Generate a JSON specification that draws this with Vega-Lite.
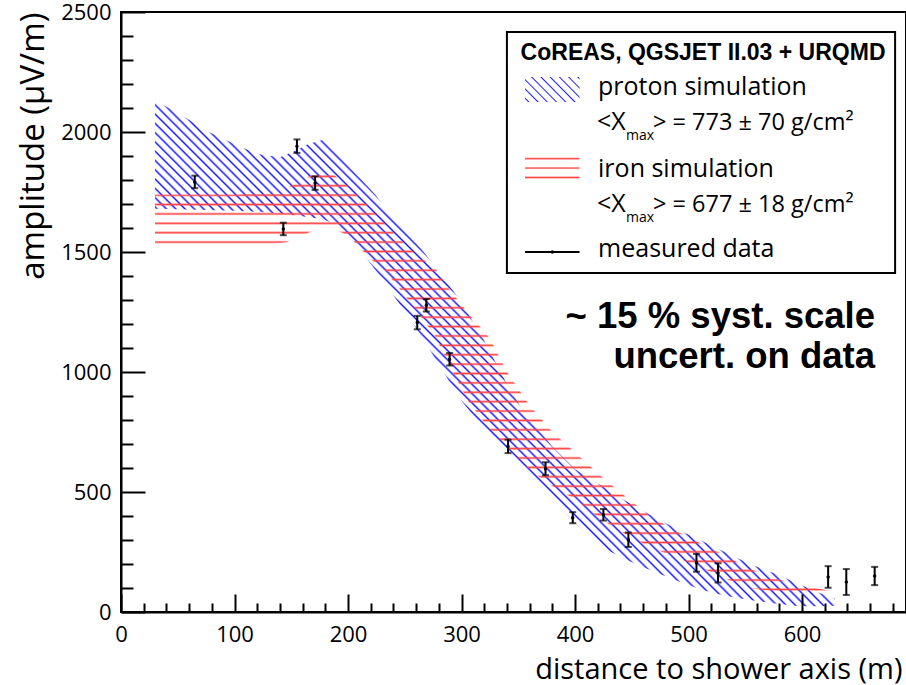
{
  "$schema": "https://vega.github.io/schema/vega-lite/v6.json",
  "width": 785,
  "height": 600,
  "autosize": {"type": "none"},
  "padding": {"left": 121, "top": 12, "right": 0, "bottom": 73},
  "background": "white",
  "config": {"view": {"stroke": "black", "strokeWidth": 2}, "font": "Open Sans"},
  "resolve": {"axis": {"x": "independent", "y": "independent"}},
  "datasets": {
    "proton": [
      {"d": 30, "lo": 1680, "hi": 2130}, {"d": 50, "lo": 1678, "hi": 2080}, {"d": 75, "lo": 1675, "hi": 2005},
      {"d": 100, "lo": 1672, "hi": 1950}, {"d": 120, "lo": 1668, "hi": 1908}, {"d": 140, "lo": 1660, "hi": 1895},
      {"d": 155, "lo": 1652, "hi": 1925}, {"d": 165, "lo": 1645, "hi": 1950}, {"d": 178, "lo": 1638, "hi": 1968},
      {"d": 190, "lo": 1610, "hi": 1915}, {"d": 200, "lo": 1570, "hi": 1860}, {"d": 210, "lo": 1510, "hi": 1810},
      {"d": 224, "lo": 1426, "hi": 1740}, {"d": 240, "lo": 1320, "hi": 1640}, {"d": 265, "lo": 1148, "hi": 1510},
      {"d": 280, "lo": 1030, "hi": 1420}, {"d": 300, "lo": 880, "hi": 1290}, {"d": 320, "lo": 760, "hi": 1130},
      {"d": 340, "lo": 660, "hi": 950}, {"d": 354, "lo": 592, "hi": 840}, {"d": 380, "lo": 470, "hi": 690},
      {"d": 400, "lo": 370, "hi": 595}, {"d": 422, "lo": 275, "hi": 530}, {"d": 444, "lo": 220, "hi": 465},
      {"d": 466, "lo": 175, "hi": 405}, {"d": 490, "lo": 130, "hi": 345}, {"d": 510, "lo": 95, "hi": 300},
      {"d": 532, "lo": 68, "hi": 250}, {"d": 554, "lo": 50, "hi": 200}, {"d": 576, "lo": 35, "hi": 160},
      {"d": 598, "lo": 24, "hi": 115}, {"d": 615, "lo": 24, "hi": 80}, {"d": 629, "lo": 26, "hi": 55}
    ],
    "iron": [
      {"d": 30, "lo": 1530, "hi": 1740}, {"d": 60, "lo": 1530, "hi": 1740}, {"d": 100, "lo": 1530, "hi": 1740},
      {"d": 130, "lo": 1532, "hi": 1745}, {"d": 145, "lo": 1540, "hi": 1765}, {"d": 160, "lo": 1570, "hi": 1800},
      {"d": 175, "lo": 1600, "hi": 1840}, {"d": 185, "lo": 1600, "hi": 1830}, {"d": 195, "lo": 1580, "hi": 1795},
      {"d": 205, "lo": 1545, "hi": 1755}, {"d": 220, "lo": 1470, "hi": 1680}, {"d": 232, "lo": 1426, "hi": 1620},
      {"d": 255, "lo": 1290, "hi": 1510}, {"d": 277, "lo": 1148, "hi": 1430}, {"d": 290, "lo": 1020, "hi": 1340},
      {"d": 307, "lo": 870, "hi": 1240}, {"d": 325, "lo": 760, "hi": 1140}, {"d": 340, "lo": 690, "hi": 1000},
      {"d": 360, "lo": 592, "hi": 860}, {"d": 380, "lo": 525, "hi": 750}, {"d": 400, "lo": 470, "hi": 665},
      {"d": 422, "lo": 390, "hi": 570}, {"d": 446, "lo": 320, "hi": 475}, {"d": 466, "lo": 271, "hi": 400},
      {"d": 490, "lo": 225, "hi": 335}, {"d": 510, "lo": 188, "hi": 288}, {"d": 532, "lo": 140, "hi": 235},
      {"d": 554, "lo": 100, "hi": 180}, {"d": 576, "lo": 85, "hi": 140}, {"d": 600, "lo": 70, "hi": 110},
      {"d": 629, "lo": 62, "hi": 84}
    ],
    "measured": [
      {"d": 65, "amp": 1792, "err": 26}, {"d": 143, "amp": 1596, "err": 26}, {"d": 155, "amp": 1941, "err": 28},
      {"d": 171, "amp": 1787, "err": 28}, {"d": 261, "amp": 1206, "err": 28}, {"d": 269, "amp": 1278, "err": 26},
      {"d": 289.5, "amp": 1053, "err": 26}, {"d": 341, "amp": 690, "err": 28}, {"d": 374, "amp": 597, "err": 27},
      {"d": 398, "amp": 393, "err": 23}, {"d": 425, "amp": 405, "err": 24}, {"d": 447, "amp": 301, "err": 30},
      {"d": 507, "amp": 205, "err": 37}, {"d": 526, "amp": 163, "err": 40}, {"d": 623, "amp": 146, "err": 45},
      {"d": 639, "amp": 125, "err": 54}, {"d": 664, "amp": 150, "err": 38}
    ]
  },
  "layer": [
    {
      "data": {"name": "proton"},
      "mark": {
        "type": "area",
        "fill": {
          "gradient": "linear", "x1": 0, "y1": 0.744, "x2": 1, "y2": 0,
          "stops": [
            {"offset": 0, "color": "rgba(26,26,255,0)"},
            {"offset": 0.2450, "color": "rgba(26,26,255,0)"}, {"offset": 0.2470, "color": "#1a1aff"}, {"offset": 0.2490, "color": "rgba(26,26,255,0)"},
            {"offset": 0.2538, "color": "rgba(26,26,255,0)"}, {"offset": 0.2558, "color": "#1a1aff"}, {"offset": 0.2578, "color": "rgba(26,26,255,0)"},
            {"offset": 0.2626, "color": "rgba(26,26,255,0)"}, {"offset": 0.2646, "color": "#1a1aff"}, {"offset": 0.2666, "color": "rgba(26,26,255,0)"},
            {"offset": 0.2714, "color": "rgba(26,26,255,0)"}, {"offset": 0.2734, "color": "#1a1aff"}, {"offset": 0.2754, "color": "rgba(26,26,255,0)"},
            {"offset": 0.2802, "color": "rgba(26,26,255,0)"}, {"offset": 0.2822, "color": "#1a1aff"}, {"offset": 0.2842, "color": "rgba(26,26,255,0)"},
            {"offset": 0.2890, "color": "rgba(26,26,255,0)"}, {"offset": 0.2910, "color": "#1a1aff"}, {"offset": 0.2930, "color": "rgba(26,26,255,0)"},
            {"offset": 0.2978, "color": "rgba(26,26,255,0)"}, {"offset": 0.2998, "color": "#1a1aff"}, {"offset": 0.3018, "color": "rgba(26,26,255,0)"},
            {"offset": 0.3066, "color": "rgba(26,26,255,0)"}, {"offset": 0.3086, "color": "#1a1aff"}, {"offset": 0.3106, "color": "rgba(26,26,255,0)"},
            {"offset": 0.3154, "color": "rgba(26,26,255,0)"}, {"offset": 0.3174, "color": "#1a1aff"}, {"offset": 0.3194, "color": "rgba(26,26,255,0)"},
            {"offset": 0.3242, "color": "rgba(26,26,255,0)"}, {"offset": 0.3262, "color": "#1a1aff"}, {"offset": 0.3282, "color": "rgba(26,26,255,0)"},
            {"offset": 0.3330, "color": "rgba(26,26,255,0)"}, {"offset": 0.3350, "color": "#1a1aff"}, {"offset": 0.3370, "color": "rgba(26,26,255,0)"},
            {"offset": 0.3418, "color": "rgba(26,26,255,0)"}, {"offset": 0.3438, "color": "#1a1aff"}, {"offset": 0.3458, "color": "rgba(26,26,255,0)"},
            {"offset": 0.3506, "color": "rgba(26,26,255,0)"}, {"offset": 0.3526, "color": "#1a1aff"}, {"offset": 0.3546, "color": "rgba(26,26,255,0)"},
            {"offset": 0.3594, "color": "rgba(26,26,255,0)"}, {"offset": 0.3614, "color": "#1a1aff"}, {"offset": 0.3634, "color": "rgba(26,26,255,0)"},
            {"offset": 0.3682, "color": "rgba(26,26,255,0)"}, {"offset": 0.3702, "color": "#1a1aff"}, {"offset": 0.3722, "color": "rgba(26,26,255,0)"},
            {"offset": 0.3770, "color": "rgba(26,26,255,0)"}, {"offset": 0.3790, "color": "#1a1aff"}, {"offset": 0.3810, "color": "rgba(26,26,255,0)"},
            {"offset": 0.3858, "color": "rgba(26,26,255,0)"}, {"offset": 0.3878, "color": "#1a1aff"}, {"offset": 0.3898, "color": "rgba(26,26,255,0)"},
            {"offset": 0.3946, "color": "rgba(26,26,255,0)"}, {"offset": 0.3966, "color": "#1a1aff"}, {"offset": 0.3986, "color": "rgba(26,26,255,0)"},
            {"offset": 0.4034, "color": "rgba(26,26,255,0)"}, {"offset": 0.4054, "color": "#1a1aff"}, {"offset": 0.4074, "color": "rgba(26,26,255,0)"},
            {"offset": 0.4122, "color": "rgba(26,26,255,0)"}, {"offset": 0.4142, "color": "#1a1aff"}, {"offset": 0.4162, "color": "rgba(26,26,255,0)"},
            {"offset": 0.4210, "color": "rgba(26,26,255,0)"}, {"offset": 0.4230, "color": "#1a1aff"}, {"offset": 0.4250, "color": "rgba(26,26,255,0)"},
            {"offset": 0.4298, "color": "rgba(26,26,255,0)"}, {"offset": 0.4318, "color": "#1a1aff"}, {"offset": 0.4338, "color": "rgba(26,26,255,0)"},
            {"offset": 0.4386, "color": "rgba(26,26,255,0)"}, {"offset": 0.4406, "color": "#1a1aff"}, {"offset": 0.4426, "color": "rgba(26,26,255,0)"},
            {"offset": 0.4474, "color": "rgba(26,26,255,0)"}, {"offset": 0.4494, "color": "#1a1aff"}, {"offset": 0.4514, "color": "rgba(26,26,255,0)"},
            {"offset": 0.4562, "color": "rgba(26,26,255,0)"}, {"offset": 0.4582, "color": "#1a1aff"}, {"offset": 0.4602, "color": "rgba(26,26,255,0)"},
            {"offset": 0.4650, "color": "rgba(26,26,255,0)"}, {"offset": 0.4670, "color": "#1a1aff"}, {"offset": 0.4690, "color": "rgba(26,26,255,0)"},
            {"offset": 0.4738, "color": "rgba(26,26,255,0)"}, {"offset": 0.4758, "color": "#1a1aff"}, {"offset": 0.4778, "color": "rgba(26,26,255,0)"},
            {"offset": 0.4826, "color": "rgba(26,26,255,0)"}, {"offset": 0.4846, "color": "#1a1aff"}, {"offset": 0.4866, "color": "rgba(26,26,255,0)"},
            {"offset": 0.4914, "color": "rgba(26,26,255,0)"}, {"offset": 0.4934, "color": "#1a1aff"}, {"offset": 0.4954, "color": "rgba(26,26,255,0)"},
            {"offset": 0.5002, "color": "rgba(26,26,255,0)"}, {"offset": 0.5022, "color": "#1a1aff"}, {"offset": 0.5042, "color": "rgba(26,26,255,0)"},
            {"offset": 0.5090, "color": "rgba(26,26,255,0)"}, {"offset": 0.5110, "color": "#1a1aff"}, {"offset": 0.5130, "color": "rgba(26,26,255,0)"},
            {"offset": 0.5178, "color": "rgba(26,26,255,0)"}, {"offset": 0.5198, "color": "#1a1aff"}, {"offset": 0.5218, "color": "rgba(26,26,255,0)"},
            {"offset": 0.5266, "color": "rgba(26,26,255,0)"}, {"offset": 0.5286, "color": "#1a1aff"}, {"offset": 0.5306, "color": "rgba(26,26,255,0)"},
            {"offset": 0.5354, "color": "rgba(26,26,255,0)"}, {"offset": 0.5374, "color": "#1a1aff"}, {"offset": 0.5394, "color": "rgba(26,26,255,0)"},
            {"offset": 1, "color": "rgba(26,26,255,0)"}
          ]
        }
      },
      "encoding": {
        "x": {
          "field": "d", "type": "quantitative",
          "scale": {"domain": [0, 691.6], "nice": false, "zero": false},
          "axis": {
            "orient": "bottom",
            "title": "distance to shower axis (m)",
            "values": [0, 100, 200, 300, 400, 500, 600],
            "format": "d",
            "tickSize": -18,
            "tickWidth": 2, "tickColor": "black",
            "domainColor": "black", "domainWidth": 2,
            "labelPadding": 30, "labelFont": "Open Sans", "labelFontSize": 22, "labelColor": "black",
            "labelFlush": false, "labelOverlap": false,
            "titleFont": "Open Sans", "titleFontSize": 29, "titleFontWeight": "normal", "titleColor": "black",
            "titleAnchor": "end", "titleX": 781, "titlePadding": 10, "grid": false, "zindex": 1
          }
        },
        "y": {
          "field": "lo", "type": "quantitative",
          "scale": {"domain": [0, 2500], "nice": false, "zero": true},
          "axis": {
            "orient": "left",
            "title": "amplitude (µV/m)",
            "values": [0, 500, 1000, 1500, 2000, 2500],
            "format": "d",
            "tickSize": -24,
            "tickWidth": 2, "tickColor": "black",
            "domainColor": "black", "domainWidth": 2,
            "labelPadding": 34, "labelFont": "Open Sans", "labelFontSize": 22, "labelColor": "black",
            "labelOverlap": false,
            "titleFont": "Open Sans", "titleFontSize": 33, "titleFontWeight": "normal", "titleColor": "black",
            "titleAnchor": "end", "titlePadding": 10, "grid": false, "zindex": 1
          }
        },
        "y2": {"field": "hi"}
      }
    },
    {
      "data": {"name": "iron"},
      "mark": {
        "type": "area",
        "fill": {
          "gradient": "linear", "x1": 0, "y1": 0, "x2": 0, "y2": 1,
          "stops": [
            {"offset": 0, "color": "rgba(255,64,64,0)"},
            {"offset": 0.010, "color": "rgba(255,64,64,0)"}, {"offset": 0.014, "color": "#ff4040"}, {"offset": 0.018, "color": "rgba(255,64,64,0)"},
            {"offset": 0.032, "color": "rgba(255,64,64,0)"}, {"offset": 0.036, "color": "#ff4040"}, {"offset": 0.040, "color": "rgba(255,64,64,0)"},
            {"offset": 0.054, "color": "rgba(255,64,64,0)"}, {"offset": 0.058, "color": "#ff4040"}, {"offset": 0.062, "color": "rgba(255,64,64,0)"},
            {"offset": 0.076, "color": "rgba(255,64,64,0)"}, {"offset": 0.080, "color": "#ff4040"}, {"offset": 0.084, "color": "rgba(255,64,64,0)"},
            {"offset": 0.098, "color": "rgba(255,64,64,0)"}, {"offset": 0.102, "color": "#ff4040"}, {"offset": 0.106, "color": "rgba(255,64,64,0)"},
            {"offset": 0.120, "color": "rgba(255,64,64,0)"}, {"offset": 0.124, "color": "#ff4040"}, {"offset": 0.128, "color": "rgba(255,64,64,0)"},
            {"offset": 0.142, "color": "rgba(255,64,64,0)"}, {"offset": 0.146, "color": "#ff4040"}, {"offset": 0.150, "color": "rgba(255,64,64,0)"},
            {"offset": 0.164, "color": "rgba(255,64,64,0)"}, {"offset": 0.168, "color": "#ff4040"}, {"offset": 0.172, "color": "rgba(255,64,64,0)"},
            {"offset": 0.186, "color": "rgba(255,64,64,0)"}, {"offset": 0.190, "color": "#ff4040"}, {"offset": 0.194, "color": "rgba(255,64,64,0)"},
            {"offset": 0.208, "color": "rgba(255,64,64,0)"}, {"offset": 0.212, "color": "#ff4040"}, {"offset": 0.216, "color": "rgba(255,64,64,0)"},
            {"offset": 0.230, "color": "rgba(255,64,64,0)"}, {"offset": 0.234, "color": "#ff4040"}, {"offset": 0.238, "color": "rgba(255,64,64,0)"},
            {"offset": 0.252, "color": "rgba(255,64,64,0)"}, {"offset": 0.256, "color": "#ff4040"}, {"offset": 0.260, "color": "rgba(255,64,64,0)"},
            {"offset": 0.274, "color": "rgba(255,64,64,0)"}, {"offset": 0.278, "color": "#ff4040"}, {"offset": 0.282, "color": "rgba(255,64,64,0)"},
            {"offset": 0.296, "color": "rgba(255,64,64,0)"}, {"offset": 0.300, "color": "#ff4040"}, {"offset": 0.304, "color": "rgba(255,64,64,0)"},
            {"offset": 0.318, "color": "rgba(255,64,64,0)"}, {"offset": 0.322, "color": "#ff4040"}, {"offset": 0.326, "color": "rgba(255,64,64,0)"},
            {"offset": 0.340, "color": "rgba(255,64,64,0)"}, {"offset": 0.344, "color": "#ff4040"}, {"offset": 0.348, "color": "rgba(255,64,64,0)"},
            {"offset": 0.362, "color": "rgba(255,64,64,0)"}, {"offset": 0.366, "color": "#ff4040"}, {"offset": 0.370, "color": "rgba(255,64,64,0)"},
            {"offset": 0.384, "color": "rgba(255,64,64,0)"}, {"offset": 0.388, "color": "#ff4040"}, {"offset": 0.392, "color": "rgba(255,64,64,0)"},
            {"offset": 0.406, "color": "rgba(255,64,64,0)"}, {"offset": 0.410, "color": "#ff4040"}, {"offset": 0.414, "color": "rgba(255,64,64,0)"},
            {"offset": 0.428, "color": "rgba(255,64,64,0)"}, {"offset": 0.432, "color": "#ff4040"}, {"offset": 0.436, "color": "rgba(255,64,64,0)"},
            {"offset": 0.450, "color": "rgba(255,64,64,0)"}, {"offset": 0.454, "color": "#ff4040"}, {"offset": 0.458, "color": "rgba(255,64,64,0)"},
            {"offset": 0.472, "color": "rgba(255,64,64,0)"}, {"offset": 0.476, "color": "#ff4040"}, {"offset": 0.480, "color": "rgba(255,64,64,0)"},
            {"offset": 0.494, "color": "rgba(255,64,64,0)"}, {"offset": 0.498, "color": "#ff4040"}, {"offset": 0.502, "color": "rgba(255,64,64,0)"},
            {"offset": 0.516, "color": "rgba(255,64,64,0)"}, {"offset": 0.520, "color": "#ff4040"}, {"offset": 0.524, "color": "rgba(255,64,64,0)"},
            {"offset": 0.538, "color": "rgba(255,64,64,0)"}, {"offset": 0.542, "color": "#ff4040"}, {"offset": 0.546, "color": "rgba(255,64,64,0)"},
            {"offset": 0.560, "color": "rgba(255,64,64,0)"}, {"offset": 0.564, "color": "#ff4040"}, {"offset": 0.568, "color": "rgba(255,64,64,0)"},
            {"offset": 0.582, "color": "rgba(255,64,64,0)"}, {"offset": 0.586, "color": "#ff4040"}, {"offset": 0.590, "color": "rgba(255,64,64,0)"},
            {"offset": 0.604, "color": "rgba(255,64,64,0)"}, {"offset": 0.608, "color": "#ff4040"}, {"offset": 0.612, "color": "rgba(255,64,64,0)"},
            {"offset": 0.626, "color": "rgba(255,64,64,0)"}, {"offset": 0.630, "color": "#ff4040"}, {"offset": 0.634, "color": "rgba(255,64,64,0)"},
            {"offset": 0.648, "color": "rgba(255,64,64,0)"}, {"offset": 0.652, "color": "#ff4040"}, {"offset": 0.656, "color": "rgba(255,64,64,0)"},
            {"offset": 0.670, "color": "rgba(255,64,64,0)"}, {"offset": 0.674, "color": "#ff4040"}, {"offset": 0.678, "color": "rgba(255,64,64,0)"},
            {"offset": 0.692, "color": "rgba(255,64,64,0)"}, {"offset": 0.696, "color": "#ff4040"}, {"offset": 0.700, "color": "rgba(255,64,64,0)"},
            {"offset": 0.714, "color": "rgba(255,64,64,0)"}, {"offset": 0.718, "color": "#ff4040"}, {"offset": 0.722, "color": "rgba(255,64,64,0)"},
            {"offset": 0.736, "color": "rgba(255,64,64,0)"}, {"offset": 0.740, "color": "#ff4040"}, {"offset": 0.744, "color": "rgba(255,64,64,0)"},
            {"offset": 0.758, "color": "rgba(255,64,64,0)"}, {"offset": 0.762, "color": "#ff4040"}, {"offset": 0.766, "color": "rgba(255,64,64,0)"},
            {"offset": 0.780, "color": "rgba(255,64,64,0)"}, {"offset": 0.784, "color": "#ff4040"}, {"offset": 0.788, "color": "rgba(255,64,64,0)"},
            {"offset": 0.802, "color": "rgba(255,64,64,0)"}, {"offset": 0.806, "color": "#ff4040"}, {"offset": 0.810, "color": "rgba(255,64,64,0)"},
            {"offset": 0.824, "color": "rgba(255,64,64,0)"}, {"offset": 0.828, "color": "#ff4040"}, {"offset": 0.832, "color": "rgba(255,64,64,0)"},
            {"offset": 0.846, "color": "rgba(255,64,64,0)"}, {"offset": 0.850, "color": "#ff4040"}, {"offset": 0.854, "color": "rgba(255,64,64,0)"},
            {"offset": 0.868, "color": "rgba(255,64,64,0)"}, {"offset": 0.872, "color": "#ff4040"}, {"offset": 0.876, "color": "rgba(255,64,64,0)"},
            {"offset": 0.890, "color": "rgba(255,64,64,0)"}, {"offset": 0.894, "color": "#ff4040"}, {"offset": 0.898, "color": "rgba(255,64,64,0)"},
            {"offset": 0.912, "color": "rgba(255,64,64,0)"}, {"offset": 0.916, "color": "#ff4040"}, {"offset": 0.920, "color": "rgba(255,64,64,0)"},
            {"offset": 0.934, "color": "rgba(255,64,64,0)"}, {"offset": 0.938, "color": "#ff4040"}, {"offset": 0.942, "color": "rgba(255,64,64,0)"},
            {"offset": 0.956, "color": "rgba(255,64,64,0)"}, {"offset": 0.960, "color": "#ff4040"}, {"offset": 0.964, "color": "rgba(255,64,64,0)"},
            {"offset": 0.978, "color": "rgba(255,64,64,0)"}, {"offset": 0.982, "color": "#ff4040"}, {"offset": 0.986, "color": "rgba(255,64,64,0)"},
            {"offset": 1, "color": "rgba(255,64,64,0)"}
          ]
        }
      },
      "encoding": {
        "x": {
          "field": "d", "type": "quantitative",
          "axis": {
            "orient": "bottom",
            "values": [20, 40, 60, 80, 120, 140, 160, 180, 220, 240, 260, 280, 320, 340, 360, 380, 420, 440, 460, 480, 520, 540, 560, 580, 620, 640, 660, 680],
            "labels": false, "domain": false, "title": null, "grid": false,
            "tickSize": -9, "tickWidth": 2, "tickColor": "black", "zindex": 1
          }
        },
        "y": {
          "field": "lo", "type": "quantitative",
          "axis": {
            "orient": "left",
            "values": [100, 200, 300, 400, 600, 700, 800, 900, 1100, 1200, 1300, 1400, 1600, 1700, 1800, 1900, 2100, 2200, 2300, 2400],
            "labels": false, "domain": false, "title": null, "grid": false,
            "tickSize": -12, "tickWidth": 2, "tickColor": "black", "zindex": 1
          }
        },
        "y2": {"field": "hi"}
      }
    },
    {
      "data": {"name": "measured"},
      "mark": {"type": "errorbar", "color": "black", "ticks": {"size": 7, "thickness": 2, "color": "black"}, "rule": {"strokeWidth": 2, "color": "black"}},
      "encoding": {
        "x": {"field": "d", "type": "quantitative", "axis": null},
        "y": {"field": "amp", "type": "quantitative", "axis": null},
        "yError": {"field": "err"}
      }
    },
    {
      "data": {"name": "measured"},
      "mark": {"type": "point", "filled": true, "color": "black", "size": 12, "opacity": 1},
      "encoding": {
        "x": {"field": "d", "type": "quantitative", "axis": null},
        "y": {"field": "amp", "type": "quantitative", "axis": null}
      }
    },
    {
      "data": {"values": [{}]},
      "mark": {"type": "rect", "fill": "white", "stroke": "black", "strokeWidth": 2},
      "encoding": {"x": {"datum": 340, "axis": null}, "x2": {"datum": 682}, "y": {"datum": 1412, "axis": null}, "y2": {"datum": 2417}}
    },
    {
      "data": {"values": [{}]},
      "mark": {"type": "text", "text": "CoREAS, QGSJET II.03 + URQMD", "font": "Liberation Sans", "fontWeight": "bold", "fontSize": 23, "align": "center", "baseline": "alphabetic", "color": "black"},
      "encoding": {"x": {"datum": 512.8, "axis": null}, "y": {"datum": 2300, "axis": null}}
    },
    {
      "data": {"values": [{}]},
      "mark": {
        "type": "rect",
        "fill": {
          "gradient": "linear", "x1": 0, "y1": 1, "x2": 1.2, "y2": 0.4546,
          "stops": [
            {"offset": 0, "color": "rgba(26,26,255,0)"},
            {"offset": 0.030, "color": "rgba(26,26,255,0)"}, {"offset": 0.0475, "color": "#1a1aff"}, {"offset": 0.065, "color": "rgba(26,26,255,0)"},
            {"offset": 0.147, "color": "rgba(26,26,255,0)"}, {"offset": 0.1645, "color": "#1a1aff"}, {"offset": 0.182, "color": "rgba(26,26,255,0)"},
            {"offset": 0.264, "color": "rgba(26,26,255,0)"}, {"offset": 0.2815, "color": "#1a1aff"}, {"offset": 0.299, "color": "rgba(26,26,255,0)"},
            {"offset": 0.381, "color": "rgba(26,26,255,0)"}, {"offset": 0.3985, "color": "#1a1aff"}, {"offset": 0.416, "color": "rgba(26,26,255,0)"},
            {"offset": 0.498, "color": "rgba(26,26,255,0)"}, {"offset": 0.5155, "color": "#1a1aff"}, {"offset": 0.533, "color": "rgba(26,26,255,0)"},
            {"offset": 0.615, "color": "rgba(26,26,255,0)"}, {"offset": 0.6325, "color": "#1a1aff"}, {"offset": 0.650, "color": "rgba(26,26,255,0)"},
            {"offset": 0.732, "color": "rgba(26,26,255,0)"}, {"offset": 0.7495, "color": "#1a1aff"}, {"offset": 0.767, "color": "rgba(26,26,255,0)"},
            {"offset": 0.849, "color": "rgba(26,26,255,0)"}, {"offset": 0.8665, "color": "#1a1aff"}, {"offset": 0.884, "color": "rgba(26,26,255,0)"},
            {"offset": 0.966, "color": "rgba(26,26,255,0)"}, {"offset": 0.9835, "color": "#1a1aff"}, {"offset": 1, "color": "rgba(26,26,255,0)"}
          ]
        }
      },
      "encoding": {"x": {"datum": 356, "axis": null}, "x2": {"datum": 404}, "y": {"datum": 2125, "axis": null}, "y2": {"datum": 2229}}
    },
    {
      "data": {"values": [{}]},
      "mark": {
        "type": "rect",
        "fill": {
          "gradient": "linear", "x1": 0, "y1": 0, "x2": 0, "y2": 1,
          "stops": [
            {"offset": 0, "color": "rgba(255,64,64,0)"},
            {"offset": 0.08, "color": "rgba(255,64,64,0)"}, {"offset": 0.135, "color": "#ff4040"}, {"offset": 0.19, "color": "rgba(255,64,64,0)"},
            {"offset": 0.43, "color": "rgba(255,64,64,0)"}, {"offset": 0.485, "color": "#ff4040"}, {"offset": 0.54, "color": "rgba(255,64,64,0)"},
            {"offset": 0.78, "color": "rgba(255,64,64,0)"}, {"offset": 0.835, "color": "#ff4040"}, {"offset": 0.89, "color": "rgba(255,64,64,0)"},
            {"offset": 1, "color": "rgba(255,64,64,0)"}
          ]
        }
      },
      "encoding": {"x": {"datum": 356, "axis": null}, "x2": {"datum": 404}, "y": {"datum": 1792, "axis": null}, "y2": {"datum": 1904}}
    },
    {
      "data": {"values": [{}]},
      "mark": {"type": "rule", "color": "black", "strokeWidth": 2},
      "encoding": {"x": {"datum": 356, "axis": null}, "x2": {"datum": 404}, "y": {"datum": 1500, "axis": null}}
    },
    {
      "data": {"values": [{}]},
      "mark": {"type": "point", "filled": true, "color": "black", "size": 12, "opacity": 1},
      "encoding": {"x": {"datum": 380, "axis": null}, "y": {"datum": 1500, "axis": null}}
    },
    {
      "data": {"values": [{}]},
      "mark": {"type": "text", "text": "proton simulation", "font": "Open Sans", "fontSize": 25, "align": "left", "baseline": "alphabetic", "color": "black"},
      "encoding": {"x": {"datum": 420.3, "axis": null}, "y": {"datum": 2154, "axis": null}}
    },
    {
      "data": {"values": [{}]},
      "mark": {"type": "text", "text": "<X", "font": "Open Sans", "fontSize": 25, "align": "left", "baseline": "alphabetic", "color": "black"},
      "encoding": {"x": {"datum": 419.4, "axis": null}, "y": {"datum": 2008, "axis": null}}
    },
    {
      "data": {"values": [{}]},
      "mark": {"type": "text", "text": "max", "font": "Open Sans", "fontSize": 14, "align": "left", "baseline": "alphabetic", "color": "black"},
      "encoding": {"x": {"datum": 445, "axis": null}, "y": {"datum": 1967, "axis": null}}
    },
    {
      "data": {"values": [{}]},
      "mark": {"type": "text", "text": "> = 773 ± 70 g/cm²", "font": "Open Sans", "fontSize": 23.5, "align": "left", "baseline": "alphabetic", "color": "black"},
      "encoding": {"x": {"datum": 468.7, "axis": null}, "y": {"datum": 2008, "axis": null}}
    },
    {
      "data": {"values": [{}]},
      "mark": {"type": "text", "text": "iron simulation", "font": "Open Sans", "fontSize": 25, "align": "left", "baseline": "alphabetic", "color": "black"},
      "encoding": {"x": {"datum": 420.3, "axis": null}, "y": {"datum": 1812, "axis": null}}
    },
    {
      "data": {"values": [{}]},
      "mark": {"type": "text", "text": "<X", "font": "Open Sans", "fontSize": 25, "align": "left", "baseline": "alphabetic", "color": "black"},
      "encoding": {"x": {"datum": 419.4, "axis": null}, "y": {"datum": 1667, "axis": null}}
    },
    {
      "data": {"values": [{}]},
      "mark": {"type": "text", "text": "max", "font": "Open Sans", "fontSize": 14, "align": "left", "baseline": "alphabetic", "color": "black"},
      "encoding": {"x": {"datum": 445, "axis": null}, "y": {"datum": 1625, "axis": null}}
    },
    {
      "data": {"values": [{}]},
      "mark": {"type": "text", "text": "> = 677 ± 18 g/cm²", "font": "Open Sans", "fontSize": 23.5, "align": "left", "baseline": "alphabetic", "color": "black"},
      "encoding": {"x": {"datum": 468.7, "axis": null}, "y": {"datum": 1667, "axis": null}}
    },
    {
      "data": {"values": [{}]},
      "mark": {"type": "text", "text": "measured data", "font": "Open Sans", "fontSize": 25, "align": "left", "baseline": "alphabetic", "color": "black"},
      "encoding": {"x": {"datum": 420.3, "axis": null}, "y": {"datum": 1479, "axis": null}}
    },
    {
      "data": {"values": [{}]},
      "mark": {"type": "text", "text": "~ 15 % syst. scale", "font": "Liberation Sans", "fontWeight": "bold", "fontSize": 36.5, "align": "right", "baseline": "alphabetic", "color": "black"},
      "encoding": {"x": {"datum": 664.3, "axis": null}, "y": {"datum": 1183, "axis": null}}
    },
    {
      "data": {"values": [{}]},
      "mark": {"type": "text", "text": "uncert. on data", "font": "Liberation Sans", "fontWeight": "bold", "fontSize": 36.5, "align": "right", "baseline": "alphabetic", "color": "black"},
      "encoding": {"x": {"datum": 664.3, "axis": null}, "y": {"datum": 1017, "axis": null}}
    }
  ]
}
